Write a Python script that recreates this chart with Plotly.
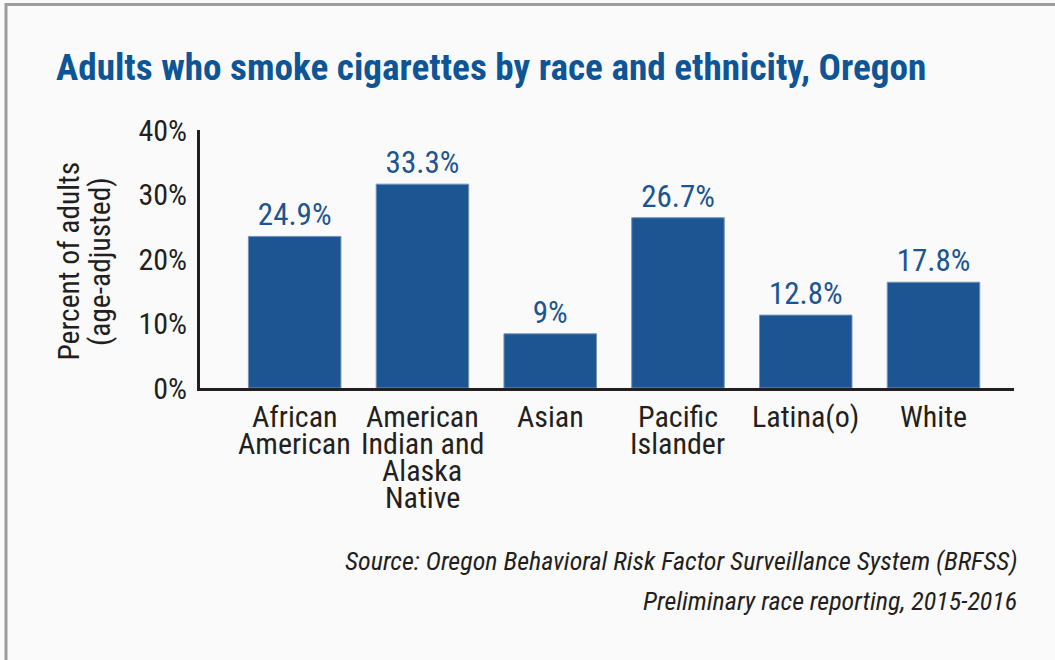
import plotly.graph_objects as go

categories = ["African American", "American Indian and Alaska Native", "Asian",
              "Pacific Islander", "Latina(o)", "White"]
tick_lines = [["African", "American"], ["American", "Indian and", "Alaska", "Native"],
              ["Asian"], ["Pacific", "Islander"], ["Latina(o)"], ["White"]]
bar_heights = [23.5, 31.6, 8.4, 26.4, 11.3, 16.4]
bar_labels = ["24.9%", "33.3%", "9%", "26.7%", "12.8%", "17.8%"]
y_ticks = [0, 10, 20, 30, 40]
y_tick_text = ["0%", "10%", "20%", "30%", "40%"]
title = "Adults who smoke cigarettes by race and ethnicity, Oregon"
ytitle_lines = ["Percent of adults", "(age-adjusted)"]
source_lines = ["Source: Oregon Behavioral Risk Factor Surveillance System (BRFSS)",
                "Preliminary race reporting, 2015-2016"]

FONT = "Roboto Condensed, Liberation Sans Narrow, Liberation Sans, sans-serif"
BLUE = "#1c5592"
INK = "#231f20"

fig = go.Figure(go.Bar(
    x=categories, y=bar_heights,
    text=bar_labels, textposition="outside", constraintext="none", cliponaxis=False,
    textfont=dict(family=FONT, size=31, color=BLUE),
    marker=dict(color=BLUE, line=dict(color="#7393bd", width=1)),
    hoverinfo="skip",
))

annotations = []
for cat, lines in zip(categories, tick_lines):
    for i, line in enumerate(lines):
        annotations.append(dict(
            x=cat, y=0, xref="x", yref="y", text=line, showarrow=False,
            xanchor="center", yanchor="middle", yshift=-28 - 27.3 * i,
            font=dict(family=FONT, size=30, color=INK)))

for i, line in enumerate(ytitle_lines):
    annotations.append(dict(
        x=(69 + 30.5 * i - 200) / 814, y=0.49, xref="paper", yref="paper",
        text=line, textangle=-90, showarrow=False, xanchor="center", yanchor="middle",
        font=dict(family=FONT, size=29.5, color=INK)))

for i, line in enumerate(source_lines):
    annotations.append(dict(
        x=1.006, y=-0.67 - 0.155 * i, xref="paper", yref="paper",
        text="<i>" + line + "</i>", showarrow=False, xanchor="right", yanchor="middle",
        font=dict(family=FONT, size=26, color=INK)))

fig.update_layout(
    width=1055, height=660,
    margin=dict(l=200, r=41, t=130, b=272),
    paper_bgcolor="#fafafa", plot_bgcolor="#fafafa",
    bargap=0.276,
    showlegend=False,
    title=dict(text="<b>" + title + "</b>", x=56 / 1055, xanchor="left",
               y=1 - 67 / 660, yanchor="middle", xref="container", yref="container",
               font=dict(family=FONT, size=37.2, color="#0d5596")),
    annotations=annotations,
    shapes=[dict(type="rect", xref="paper", yref="paper",
                 x0=(6 - 200) / 814, x1=1.2, y0=-1.3, y1=(388 - 4.5) / 258,
                 line=dict(color="#9c9c9c", width=3), fillcolor="rgba(0,0,0,0)")],
)
fig.update_xaxes(range=[-0.741, 5.63], showticklabels=False, showline=True,
                 linecolor=INK, linewidth=3, ticks="", showgrid=False, zeroline=False)
fig.update_yaxes(range=[0, 40], tickvals=y_ticks, ticktext=y_tick_text, showline=True,
                 linecolor=INK, linewidth=3, ticks="", showgrid=False, zeroline=False,
                 ticklabelstandoff=4,
                 tickfont=dict(family=FONT, size=30, color=INK))

fig.write_html("out.html", config={"displayModeBar": False},
               post_script="document.body.style.margin='0';")
